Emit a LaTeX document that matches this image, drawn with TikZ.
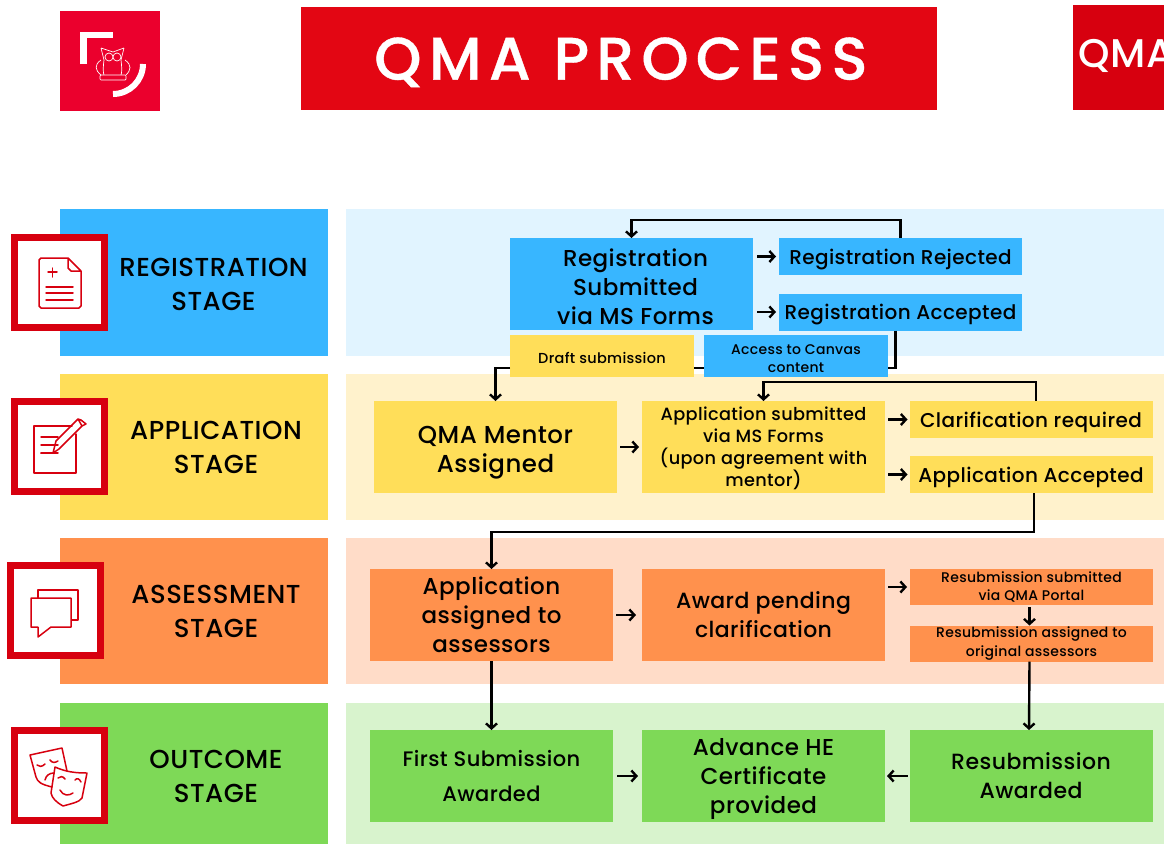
\documentclass[tikz,border=0pt]{standalone}
\usepackage{fontspec}
\usetikzlibrary{arrows.meta}
\setmainfont{Poppins}[LetterSpace=2,BoldFont={* Medium}]
\definecolor{qmared}{HTML}{E30613}
\definecolor{framered}{HTML}{D7000F}
\definecolor{logored}{HTML}{EB002D}
\definecolor{regblue}{HTML}{38B6FF}
\definecolor{reglight}{HTML}{E1F4FF}
\definecolor{appyellow}{HTML}{FFDE59}
\definecolor{applight}{HTML}{FFF2CC}
\definecolor{assorange}{HTML}{FF914D}
\definecolor{asslight}{HTML}{FFDCC8}
\definecolor{outgreen}{HTML}{7ED957}
\definecolor{outlight}{HTML}{D8F3CD}
\newcommand{\boxfont}[2]{\fontsize{#1}{#2}\selectfont\bfseries}
\tikzset{
 band/.style={inner sep=0, outer sep=0, minimum width=818, minimum height=146, anchor=west},
 stage/.style={inner sep=0, outer sep=0, minimum width=268, minimum height=146},
 stagetext/.style={inner sep=0, align=center, font=\boxfont{26}{34}},
 iconframe/.style={draw=framered, fill=white, line width=7, minimum size=90, inner sep=0, outer sep=3.5},
 bigbox/.style={text depth=0pt, inner sep=0, outer sep=0, minimum width=243, minimum height=92, align=center, font=\boxfont{23}{29}},
 smallbox/.style={text depth=0pt, inner sep=0, outer sep=0, minimum width=243, minimum height=37, align=center, font=\boxfont{20}{22}},
 tinybox/.style={inner sep=0, outer sep=0, minimum width=243, minimum height=36, align=center, font=\boxfont{14}{18.5}},
 flow/.style={black, line width=2.4, >={Straight Barb[length=5pt,width=11pt]}},
 iconline/.style={draw=framered, line width=1.5, line cap=round, line join=round},
}
\begin{document}
\begin{tikzpicture}[x=1pt, y=-1pt]
\useasboundingbox (0,0) rectangle (1164,844);
\clip (0,0) rectangle (1164,844);
\node (logo) [fill=logored, minimum size=100, inner sep=0, outer sep=0] at (110,61) {};
\node (title) [fill=qmared, minimum width=636, minimum height=103, inner sep=0, text=white, text depth=-9pt, font=\boxfont{60}{64}\addfontfeature{LetterSpace=12,FakeBold=0.6}] at (619,58.5) {\hspace*{4pt}QMA PROCESS};
\node (qmabox) [fill=framered, minimum width=91, minimum height=105, inner sep=0, outer sep=0, anchor=west] at (1073,57.5) {};
\node (qmatext) [text=white, inner sep=0, anchor=west, font=\boxfont{40}{44}] at (1078,56) {QMA};
\node (regband) [band, fill=reglight, minimum height=147] at (346,282.5) {};
\node (appband) [band, fill=applight] at (346,447) {};
\node (assband) [band, fill=asslight] at (346,611) {};
\node (outband) [band, fill=outlight, minimum height=141] at (346,773.5) {};
\node (regstage) [stage, fill=regblue, minimum height=147] at (194,282.5) {};
\node (appstage) [stage, fill=appyellow] at (194,447) {};
\node (assstage) [stage, fill=assorange] at (194,611) {};
\node (outstage) [stage, fill=outgreen, minimum height=141] at (194,773.5) {};
\node (reglabel) [stagetext] at (213.5,284) {REGISTRATION\\STAGE};
\node (applabel) [stagetext] at (216,447) {APPLICATION\\STAGE};
\node (asslabel) [stagetext] at (216,611) {ASSESSMENT\\STAGE};
\node (outlabel) [stagetext] at (216,776) {OUTCOME\\STAGE};
\node (regframe) [iconframe] at (59.5,282.5) {};
\node (appframe) [iconframe] at (59.5,446.5) {};
\node (assframe) [iconframe] at (55,610.5) {};
\node (outframe) [iconframe] at (59.5,775.5) {};
\node (regsub) [bigbox, text height=81pt, fill=regblue] at (631.5,284) {\hspace*{8pt}Registration\\\hspace*{8pt}Submitted\\\hspace*{8pt}via MS Forms};
\node (regrej) [smallbox, fill=regblue] at (900.5,256.5) {Registration Rejected};
\node (regacc) [smallbox, fill=regblue] at (900.5,312) {Registration Accepted};
\node (draft) [tinybox, text height=14pt, text depth=0pt, fill=appyellow, minimum width=184, minimum height=42, font=\boxfont{14.5}{18.5}] at (602,356) {Draft submission};
\node (canvas) [tinybox, text height=33pt, text depth=0pt, fill=regblue, minimum width=184, minimum height=42] at (796,356) {Access to Canvas\\content};
\node (mentor) [bigbox, text height=50pt, fill=appyellow, font=\boxfont{24.5}{29}] at (495.5,447) {QMA Mentor\\Assigned};
\node (appsub) [bigbox, fill=appyellow, font=\boxfont{17.7}{22}] at (763.5,447) {Application submitted\\via MS Forms\\(upon agreement with\\mentor)};
\node (clar) [smallbox, fill=appyellow] at (1031,419.5) {Clarification required};
\node (appacc) [smallbox, fill=appyellow] at (1031,474.5) {Application Accepted};
\node (assign) [bigbox, fill=assorange] at (491.5,615) {Application\\assigned to\\assessors};
\node (pending) [bigbox, fill=assorange, font=\boxfont{22}{29}] at (763.5,615) {Award pending\\clarification};
\node (resub) [tinybox, fill=assorange] at (1031.5,587) {Resubmission submitted\\via QMA Portal};
\node (reassign) [tinybox, fill=assorange] at (1031.5,643.5) {Resubmission assigned to\\original assessors};
\node (first) [bigbox, fill=outgreen, font=\boxfont{21}{35}] at (491.5,776) {First Submission\\Awarded};
\node (advance) [bigbox, fill=outgreen] at (763.5,776) {Advance HE\\Certificate\\provided};
\node (reaward) [bigbox, fill=outgreen, font=\boxfont{22}{29}] at (1031,776) {Resubmission\\Awarded};
\draw[flow, ->] (regrej.north) --++(0,-18) -| (regsub.north);
\draw[flow, ->, shorten <=4, shorten >=3] (regsub.east |- regrej) -- (regrej);
\draw[flow, ->, shorten <=4, shorten >=3] (regsub.east |- regacc) -- (regacc);
\draw[flow] ([xshift=-5]regacc.south) |- ([yshift=-12]canvas.east);
\draw[flow] ([yshift=-12]canvas.west) -- ([yshift=-12]draft.east);
\draw[flow, ->] ([yshift=-12]draft.west) -| (mentor.north);
\draw[flow, ->] ([xshift=5]clar.north) --++(0,-19) -| (appsub.north);
\draw[flow, ->, shorten <=3, shorten >=3] (mentor) -- (appsub);
\draw[flow, ->, shorten <=3, shorten >=2] (appsub.east |- clar) -- (clar);
\draw[flow, ->, shorten <=3, shorten >=2] (appsub.east |- appacc) -- (appacc);
\draw[flow, ->] ([xshift=3]appacc.south) --++(0,39) -| (assign.north);
\draw[flow, ->, shorten <=3, shorten >=6] (assign) -- (pending);
\draw[flow, ->, shorten <=3, shorten >=3] (pending.east |- resub) -- (resub);
\draw[flow, ->, shorten <=2] ([xshift=-2]resub.south) -- ([xshift=-2]reassign.north);
\draw[flow, ->] (assign) -- (first);
\draw[flow, ->] ([xshift=-2]reassign.south) -- ([xshift=-2]reaward.north);
\draw[flow, ->, shorten <=4, shorten >=4] (first) -- (advance);
\draw[flow, ->, shorten <=2, shorten >=2] (reaward) -- (advance);
\draw[white, line width=6.5] (83.5,64) -- (83.5,35) -- (113,35);
\draw[white, line width=6] (143,64) arc (0:90:30);
\draw[white, line width=.7] (101,48) -- (104,60) (124,48) -- (121,60) (101,48) -- (113,52) -- (124,48);
\draw[white, line width=.7] (109,57) circle (4) (117,57) circle (4);
\draw[white, line width=.7] (101,60) .. controls (94,65) and (95,70) .. (101,75) (125,60) .. controls (132,65) and (131,70) .. (126,75);
\draw[white, line width=.7] (104,60) .. controls (103,68) and (103,72) .. (104,75) (121,60) .. controls (122,68) and (122,72) .. (121,75);
\draw[white, line width=.7, rounded corners=1] (100,75) rectangle (126,80);
\draw[iconline] (68,258) -- (41,258) -- (39,260) -- (39,306) -- (41,308) -- (79,308) -- (81,306) -- (81,271) -- (68,258) -- (68,268) -- (71,271) -- (81,271);
\draw[iconline] (48,272) -- (57,272) (52.5,268) -- (52.5,277);
\foreach \y in {287, 293, 300} {
 \draw[iconline] (46,\y) -- (73,\y);
}
\draw[iconline] (72,426) -- (34,426) -- (34,473) -- (76,473) -- (76,434);
\foreach \y in {437, 445, 453} {
 \draw[iconline] (41,\y) -- (58,\y);
}
\draw[iconline] (41,453) -- (53,453) -- (59,449) -- (82,426) -- (78,419) -- (56,441) -- (53,453) (78,419) -- (81,420) -- (86,424) -- (82,426);
\draw[iconline, line cap=butt] (38,598) -- (38,590) -- (78,590) -- (78,620) -- (71,620);
\draw[iconline, line cap=butt] (31,598) -- (71,598) -- (71,627) -- (51,627) -- (38,637) -- (38,627) -- (31,627) -- cycle;
\draw[iconline] (52,787) .. controls (40,784) and (38,782) .. (36,777) -- (30,755) -- (62,748) -- (67,771);
\draw[iconline] (55,767) .. controls (66,772) and (76,773) .. (87,773) -- (82,798) .. controls (80,802) and (70,804) .. (63,806) .. controls (56,802) and (52,798) .. (51,793) -- (55,767);
\draw[iconline] (37,765) .. controls (39,767) and (42,767) .. (45,764) (50,760) .. controls (52,763) and (55,763) .. (58,761) (45,780) .. controls (46,775) and (50,773) .. (54,773);
\draw[iconline] (58,778) .. controls (60,776) and (63,776) .. (65,779) (75,780) .. controls (77,778) and (79,778) .. (81,782) (60,790) .. controls (63,796) and (69,796) .. (73,793);
\end{tikzpicture}
\end{document}
